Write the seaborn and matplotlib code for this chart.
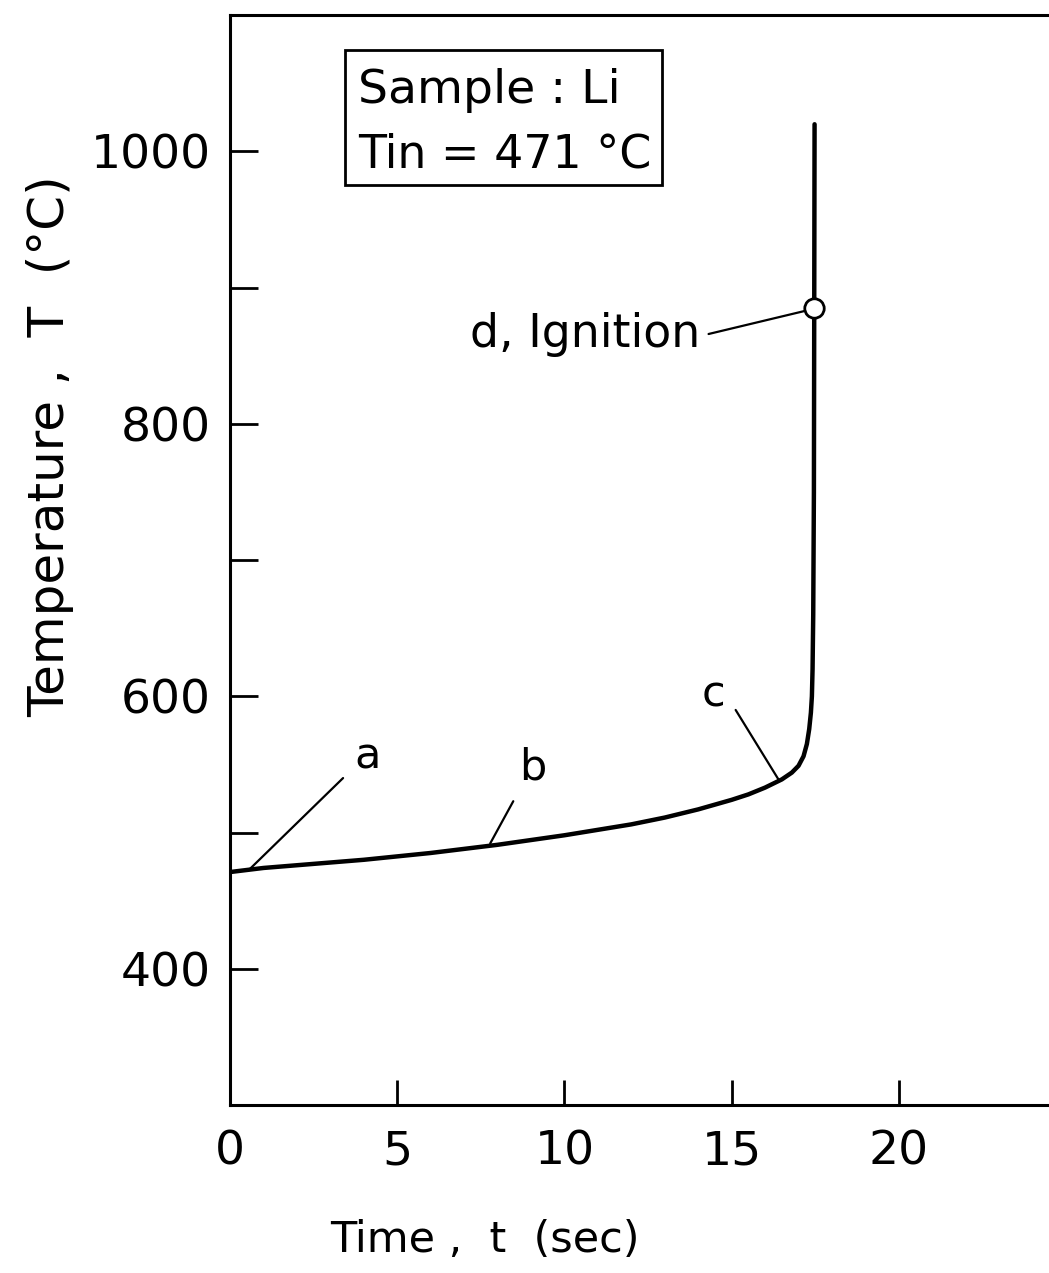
import numpy as np
import pandas as pd
import seaborn as sns
import matplotlib.pyplot as plt
from matplotlib.patches import Rectangle

# values
time_s = [0, 1, 2, 4, 6, 8, 10, 12, 13, 14, 15, 15.5, 16.0, 16.5, 16.8, 17.0, 17.15,
          17.25, 17.32, 17.37, 17.40, 17.42, 17.44, 17.46, 17.47, 17.48]
temp_c = [471, 474, 476, 480, 485, 491, 498, 506, 511, 517, 524, 528, 533, 539, 544, 549, 556,
          565, 576, 588, 600, 620, 660, 750, 885, 1020]
ignition = (17.47, 885)
x_ticks = [0, 5, 10, 15, 20]
y_major = [400, 600, 800, 1000]
y_minor = [500, 700, 900]

sns.set_theme(style="ticks")
plt.rcParams['font.family'] = ['DejaVu Sans']
plt.rcParams['text.color'] = 'black'
plt.rcParams['axes.labelcolor'] = 'black'

df = pd.DataFrame({"t": time_s, "T": temp_c})

fig = plt.figure(figsize=(10.49, 12.73), dpi=100)
ax = fig.add_axes([0.2193, 0.132, 0.781, 0.856])

sns.lineplot(data=df, x="t", y="T", sort=False, estimator=None,
             color="black", linewidth=3.2, ax=ax)
ax.plot(*ignition, marker="o", ms=14, mfc="white", mec="black", mew=2)

ax.set_xlim(0, 24.5)
ax.set_ylim(300, 1100)
ax.set_xticks(x_ticks)
ax.set_yticks(y_major)
ax.set_yticks(y_minor, minor=True)
ax.tick_params(axis="both", which="both", direction="in", width=2, colors="black",
               labelsize=34, pad=14)
ax.tick_params(axis="y", which="both", length=20)
ax.tick_params(axis="x", which="both", length=18, pad=18)
ax.spines["right"].set_visible(False)
for s in ["left", "bottom", "top"]:
    ax.spines[s].set_linewidth(2.2)
    ax.spines[s].set_color("black")

ax.set_xlabel("Time ,  t  (sec)", fontsize=31)
ax.set_ylabel("Temperature ,  T  (°C)", fontsize=36)
ax.xaxis.set_label_coords(0.311, -0.105)
ax.yaxis.set_label_coords(-0.19, 0.605)

# info box
ax.add_patch(Rectangle((0.1404, 0.844), 0.387, 0.124, transform=ax.transAxes,
                       fill=False, edgecolor="black", linewidth=2))
ax.text(0.156, 0.931, "Sample : Li", transform=ax.transAxes, fontsize=34, va="center")
ax.text(0.156, 0.8716, "Tin = 471 °C", transform=ax.transAxes, fontsize=33, va="center")

# point labels
kw = dict(color="black", lw=1.6)
ax.text(4.12, 556, "a", fontsize=31, ha="center", va="center")
ax.plot([0.54, 3.38], [472, 540], **kw)
ax.text(9.04, 548, "b", fontsize=31, ha="center", va="center")
ax.plot([7.78, 8.47], [492, 523], **kw)
ax.text(14.46, 601, "c", fontsize=31, ha="center", va="center")
ax.plot([15.12, 16.4], [590, 539], **kw)
ax.text(14.07, 866, "d, Ignition", fontsize=33, ha="right", va="center")
ax.plot([14.31, 17.2], [866, 883], **kw)

fig.savefig("out.png", dpi=100)
